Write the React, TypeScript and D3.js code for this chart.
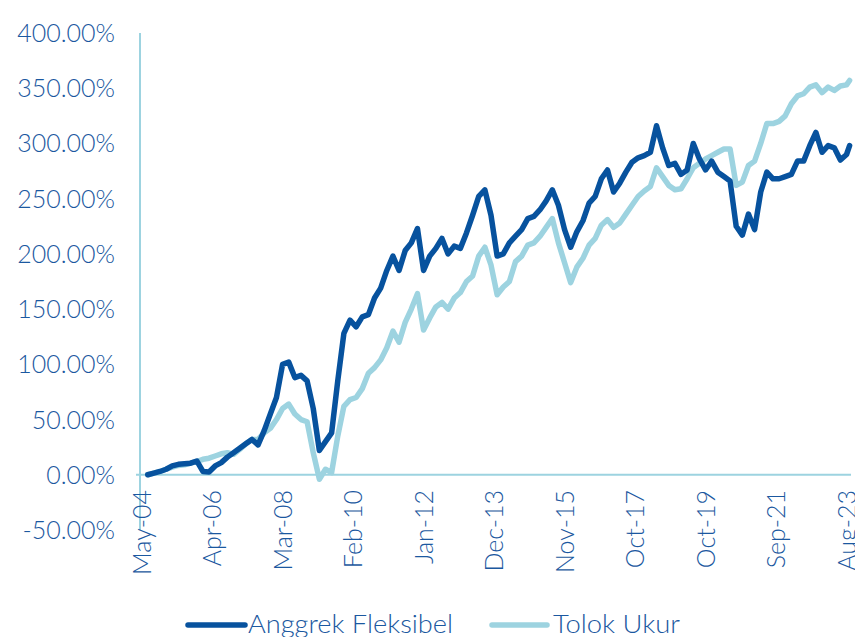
import * as d3 from "d3";

// month offsets from May-04, sampled every 2 months (last point is Aug-23)
const firstIndex = 2;
const lastIndex = 231;

const anggrek = [
  0, 1.5, 3, 5, 8, 9.5, 10, 10.5, 12.5, 3, 2.5, 8, 11, 16, 20, 24, 28, 32, 27, 40,
  55, 70, 100, 102, 88, 90, 85, 60, 22, 30, 38, 85, 128, 140, 134, 143, 145, 160, 169, 185,
  198, 185, 203, 210, 223, 185, 198, 205, 214, 200, 207, 205, 219, 235, 252, 258, 235, 198, 200, 210,
  216, 222, 232, 234, 240, 248, 258, 244, 222, 206, 220, 230, 246, 252, 268, 276, 256, 264, 274, 283,
  287, 289, 292, 316, 296, 280, 282, 272, 276, 300, 286, 276, 284, 274, 270, 266, 225, 217, 236, 222,
  256, 274, 268, 268, 270, 272, 284, 284, 298, 310, 292, 298, 296, 285, 290, 298,
];

const tolokUkur = [
  0, 1.5, 3, 5, 7, 8.5, 9, 10.5, 12, 14, 15, 17, 19, 20, 18.5, 23, 28, 32, 32, 38,
  42, 50, 60, 64, 55, 50, 48, 20, -4, 5, 2, 35, 62, 68, 70, 78, 92, 97, 104, 115,
  130, 120, 138, 150, 164, 131, 142, 152, 156, 150, 160, 165, 175, 180, 198, 206, 190, 163, 170, 175,
  193, 198, 208, 210, 216, 224, 232, 210, 192, 174, 188, 196, 208, 214, 226, 231, 224, 228, 236, 244,
  252, 257, 261, 278, 270, 262, 258, 259, 268, 278, 282, 286, 289, 292, 295, 295, 262, 265, 280, 284,
  300, 318, 318, 320, 325, 336, 343, 345, 351, 353, 346, 351, 348, 352, 353, 357,
];

const yTicks = [-50, 0, 50, 100, 150, 200, 250, 300, 350, 400];
const xTickLabels = [
  "May-04", "Apr-06", "Mar-08", "Feb-10", "Jan-12", "Dec-13",
  "Nov-15", "Oct-17", "Oct-19", "Sep-21", "Aug-23",
];
const xTickStep = 23;
const seriesNames = ["Anggrek Fleksibel", "Tolok Ukur"];

const darkBlue = "#07529e";
const lightBlue = "#9dd3e0";
const textBlue = "#1b58a0";
const font = "Lato, 'Open Sans', sans-serif";

const App = () => {
  const width = 855;
  const height = 637;

  const x = d3.scaleLinear().domain([0, 231]).range([141.6, 849.6]);
  const y = d3.scaleLinear().domain([-50, 400]).range([530, 33]);

  const idx = (i: number) => Math.min(firstIndex + i * 2, lastIndex);
  const line = d3
    .line<number>()
    .x((_, i) => x(idx(i)))
    .y((d) => y(d));

  const legendItems = [
    { name: seriesNames[0], color: darkBlue, x0: 188, x1: 245, tx: 248, tl: 205 },
    { name: seriesNames[1], color: lightBlue, x0: 492, x1: 547, tx: 553, tl: 127 },
  ];

  return (
    <svg
      width={width}
      height={height}
      style={{ position: "absolute", left: 0, top: 0, background: "#fff" }}
    >
      {/* y labels */}
      {yTicks.map((t) => (
        <text
          key={t}
          x={115}
          y={y(t)}
          dy="0.36em"
          textAnchor="end"
          fontFamily={font}
          fontSize={25}
          fontWeight={300}
          fill={textBlue}
        >
          {t.toFixed(2) + "%"}
        </text>
      ))}

      {/* axes */}
      <line x1={140} x2={140} y1={y(400)} y2={y(-50)} stroke={lightBlue} strokeWidth={2} />
      <line x1={136} x2={851} y1={y(0)} y2={y(0)} stroke={lightBlue} strokeWidth={2} />

      {/* x labels */}
      {xTickLabels.map((lab, k) => {
        const tx = x(k * xTickStep);
        return (
          <text
            key={lab + k}
            transform={`translate(${tx},490) rotate(-90)`}
            dy="0.36em"
            textAnchor="end"
            fontFamily={font}
            fontSize={25}
            fontWeight={300}
            fill={textBlue}
          >
            {lab}
          </text>
        );
      })}

      {/* series */}
      <path
        d={line(tolokUkur) ?? ""}
        fill="none"
        stroke={lightBlue}
        strokeWidth={5.5}
        strokeLinejoin="round"
        strokeLinecap="round"
      />
      <path
        d={line(anggrek) ?? ""}
        fill="none"
        stroke={darkBlue}
        strokeWidth={5.5}
        strokeLinejoin="round"
        strokeLinecap="round"
      />

      {/* legend */}
      {legendItems.map((it) => (
        <g key={it.name}>
          <line
            x1={it.x0}
            x2={it.x1}
            y1={625}
            y2={625}
            stroke={it.color}
            strokeWidth={5.5}
            strokeLinecap="round"
          />
          <text
            x={it.tx}
            y={633}
            fontFamily={font}
            fontSize={25}
            fontWeight={300}
            fill={textBlue}
            textLength={it.tl}
            lengthAdjust="spacingAndGlyphs"
          >
            {it.name}
          </text>
        </g>
      ))}
    </svg>
  );
};

export default App;
